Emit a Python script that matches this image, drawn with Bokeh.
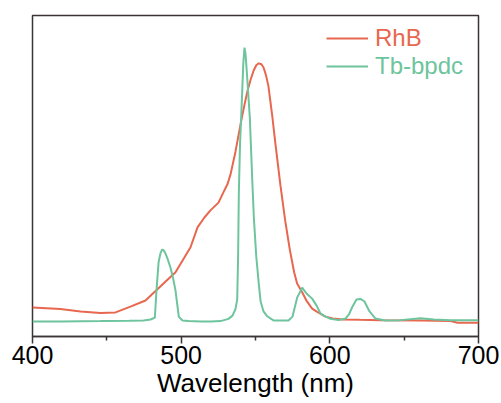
from bokeh.plotting import figure
from bokeh.models import Range1d, FixedTicker, Legend, LegendItem
from bokeh.embed import file_html
from bokeh.resources import INLINE

# Tb-bpdc emission (wavelength nm, normalized intensity)
tb_wl = [400, 420, 445.7, 465, 474.7, 479.4, 482.3, 483.4, 484.8, 486.0, 487.2, 488.3,
         489.4, 491.0, 492.8, 494.5, 496.2, 498.4, 500.9, 505, 513, 520, 526.5, 531.8,
         534.5, 536.5, 537.7, 538.3, 538.8, 539.6, 540.6, 541.8, 542.6, 543.3, 544.3,
         546.2, 547.8, 548.9, 550.5, 552.2, 553.4, 555.4, 557.9, 562.1, 572.2, 574.9,
         578, 581.4, 584.3, 588.1, 591, 593.7, 595.9, 600.4, 605.8, 610.5, 613, 615.2,
         617.9, 620.6, 623.3, 626.7, 630.7, 637.4, 647.5, 661, 670, 681.2, 690, 700]
tb_int = [0.047, 0.047, 0.048, 0.049, 0.050, 0.053, 0.059, 0.143, 0.231, 0.258, 0.271, 0.268,
          0.259, 0.240, 0.215, 0.183, 0.143, 0.062, 0.050, 0.048, 0.047, 0.047, 0.048, 0.055,
          0.065, 0.085, 0.115, 0.250, 0.450, 0.600, 0.710, 0.850, 0.900, 0.880, 0.815,
          0.680, 0.490, 0.370, 0.250, 0.165, 0.110, 0.078, 0.063, 0.050, 0.050, 0.062,
          0.121, 0.152, 0.134, 0.118, 0.097, 0.072, 0.065, 0.055, 0.051, 0.056, 0.070, 0.093,
          0.115, 0.117, 0.109, 0.078, 0.056, 0.050, 0.051, 0.057, 0.053, 0.051, 0.051, 0.051]

# RhB absorption (wavelength nm, normalized intensity)
rhb_wl = [400, 418.8, 432.3, 445.7, 455.8, 465.9, 476, 488.1, 496.2, 506.3, 511, 515.5,
          519.7, 525.1, 528, 531.2, 533.2, 536.5, 539.9, 542.5, 544.6, 546.7, 548.7, 550.5,
          552.2, 554.0, 555.4, 557.0, 558.7, 561.2, 563.4, 566.8, 570, 573.1, 576, 578,
          581.4, 584.5, 588.1, 591.5, 597.1, 602, 608.3, 620, 634.1, 661, 681.2, 685.9, 700]
rhb_int = [0.090, 0.086, 0.078, 0.073, 0.075, 0.093, 0.112, 0.165, 0.200, 0.278, 0.340, 0.370,
           0.393, 0.417, 0.445, 0.475, 0.505, 0.575, 0.660, 0.720, 0.765, 0.800, 0.828, 0.845,
           0.851, 0.848, 0.838, 0.815, 0.780, 0.690, 0.600, 0.470, 0.360, 0.270, 0.200, 0.165,
           0.138, 0.110, 0.087, 0.077, 0.062, 0.056, 0.053, 0.052, 0.051, 0.050, 0.048, 0.043, 0.043]

x_ticks = [400, 500, 600, 700]
x_minor = [450, 550, 650]
series_names = ["RhB", "Tb-bpdc"]

RED = "#E8674F"
GREEN = "#6DC49D"
FRAME = "#3b3434"
FONT = "Liberation Sans"

W, H = 501, 403
LEFT, TOP, FW, FH = 32, 15, 446, 321
p = figure(width=W, height=H, output_backend="svg", toolbar_location=None,
           x_range=Range1d(400, 700), y_range=Range1d(0, 1),
           min_border_left=LEFT, min_border_top=TOP, min_border_right=W - LEFT - FW,
           min_border_bottom=H - TOP - FH)

r1 = p.line(rhb_wl, rhb_int, line_color=RED, line_width=2)
r2 = p.line(tb_wl, tb_int, line_color=GREEN, line_width=2)

p.xgrid.visible = False
p.ygrid.visible = False
p.yaxis.visible = False
p.outline_line_color = FRAME
p.outline_line_width = 1.5
p.outline_line_alpha = 1

ax = p.xaxis[0]
ax.ticker = FixedTicker(ticks=x_ticks, minor_ticks=x_minor)
ax.axis_line_color = FRAME
ax.axis_line_width = 1.5
ax.major_tick_line_color = FRAME
ax.major_tick_line_width = 1.5
ax.major_tick_out = 7
ax.major_tick_in = 0
ax.minor_tick_line_color = FRAME
ax.minor_tick_line_width = 1.5
ax.minor_tick_out = 4
ax.minor_tick_in = 0
ax.major_label_text_font = FONT
ax.major_label_text_font_size = "25px"
ax.major_label_text_color = "black"
ax.major_label_standoff = 2
ax.axis_label = "Wavelength (nm)"
ax.axis_label_text_font = FONT
ax.axis_label_text_font_size = "26px"
ax.axis_label_text_font_style = "normal"
ax.axis_label_text_color = "black"
ax.axis_label_standoff = 1


def make_legend(name, renderer, color, loc):
    lg = Legend(items=[LegendItem(label=name, renderers=[renderer])], location=loc)
    lg.background_fill_alpha = 0
    lg.border_line_color = None
    lg.padding = 0
    lg.margin = 0
    lg.spacing = 0
    lg.glyph_width = 42
    lg.glyph_height = 20
    lg.label_height = 36
    lg.label_standoff = 7
    lg.label_text_font = FONT
    lg.label_text_font_size = "24px"
    lg.label_text_color = color
    return lg


p.add_layout(make_legend(series_names[0], r1, RED, (294, 280)))
p.add_layout(make_legend(series_names[1], r2, GREEN, (294, 252)))

open("out.html", "w").write(file_html(p, INLINE))
